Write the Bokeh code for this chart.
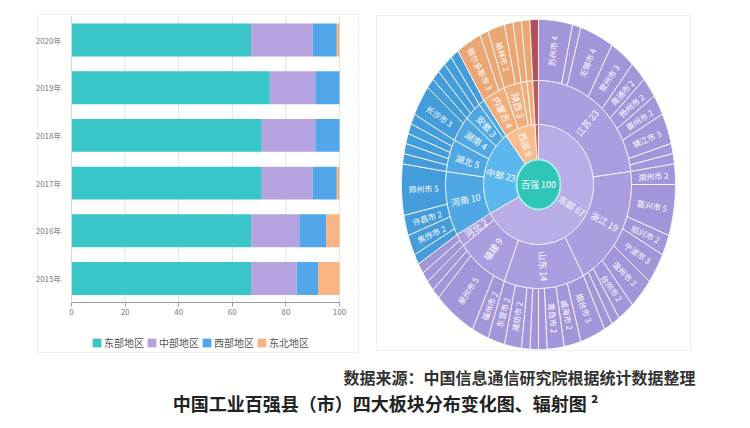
import numpy as np
from bokeh.plotting import figure
from bokeh.models import (Range1d, ColumnDataSource, Legend, LegendItem, BoxAnnotation,
                          LinearAxis, FixedTicker)
from bokeh.embed import file_html
from bokeh.resources import INLINE
from bokeh.core.properties import value

FONT = "Noto Sans CJK SC"

# ---------------- data: stacked bars ----------------
years = ["2015年", "2016年", "2017年", "2018年", "2019年", "2020年"]
east = [67, 67, 71, 71, 74, 67]
central = [17, 18, 19, 20, 17, 23]
west = [8, 10, 9, 9, 9, 9]
northeast = [8, 5, 1, 0, 0, 1]
bar_series = ["东部地区", "中部地区", "西部地区", "东北地区"]
x_ticks = [0, 20, 40, 60, 80, 100]

# ---------------- data: sunburst ----------------
root_label = "百强"
root_value = 100
regions = ["东部", "中部", "西部", "东北"]
region_values = [67, 23, 9, 1]

provinces = ["江苏", "浙江", "山东", "福建", "河北",
             "河南", "湖北", "湖南", "安徽", "江西",
             "内蒙古", "陕西", "贵州", "新疆",
             "辽宁"]
province_values = [23, 19, 14, 9, 2,
                   10, 5, 4, 3, 1,
                   4, 3, 1, 1,
                   1]
province_parent = ["东部"] * 5 + ["中部"] * 5 + ["西部"] * 4 + ["东北"]

cities = ["苏州市", "南京市", "无锡市", "常州市", "南通市", "扬州市", "泰州市", "镇江市", "盐城市", "徐州市",
          "湖州市", "嘉兴市", "绍兴市", "宁波市", "温州市", "台州市", "金华市", "杭州市",
          "烟台市", "威海市", "青岛市", "济宁市", "临沂市", "滨州市", "潍坊市", "东营市",
          "福州市", "泉州市", "漳州市", "厦门市",
          "唐山市", "石家庄市",
          "信阳市", "焦作市", "许昌市", "郑州市",
          "襄阳市", "宜昌市", "孝感市", "荆州市", "黄冈市",
          "长沙市", "岳阳市",
          "合肥市", "芜湖市", "滁州市",
          "南昌市",
          "鄂尔多斯市", "包头市",
          "榆林市", "延安市",
          "遵义市",
          "巴音郭楞州",
          "大连市"]
city_values = [4, 1, 4, 3, 2, 2, 2, 3, 1, 1,
               2, 5, 2, 3, 3, 2, 1, 1,
               3, 2, 2, 1, 1, 1, 2, 2,
               2, 5, 1, 1,
               1, 1,
               1, 2, 2, 5,
               1, 1, 1, 1, 1,
               3, 1,
               1, 1, 1,
               1,
               3, 1,
               2, 1,
               1,
               1,
               1]
city_parent = (["江苏"] * 10 + ["浙江"] * 8 + ["山东"] * 8 + ["福建"] * 4 + ["河北"] * 2 +
               ["河南"] * 4 + ["湖北"] * 5 + ["湖南"] * 2 + ["安徽"] * 3 + ["江西"] +
               ["内蒙古"] * 2 + ["陕西"] * 2 + ["贵州"] + ["新疆"] + ["辽宁"])

source_note = "数据来源：中国信息通信研究院根据统计数据整理"
caption = "中国工业百强县（市）四大板块分布变化图、辐射图 ²"

# ---------------- styles ----------------
bar_colors = ["#38c6c8", "#b6a2de", "#52a7ea", "#f8b483"]
ring_colors = {
    "东部": ["#baace7", "#ab9de0", "#a295d9"],
    "中部": ["#5db7ef", "#4fa8e4", "#459cdb"],
    "西部": ["#f8bc8d", "#f1ae7d", "#eaa673"],
    "东北": ["#c0646a", "#b8585f", "#b05058"],
}

W, H = 750, 428
p = figure(width=W, height=H, x_range=Range1d(0, W), y_range=Range1d(0, H),
           output_backend="svg", toolbar_location=None, min_border=0,
           x_axis_location=None, y_axis_location=None)
p.grid.visible = False
p.outline_line_color = None

# panel frames (page layout)
p.add_layout(BoxAnnotation(left=37, right=358, top=H - 14, bottom=H - 352,
                           fill_alpha=0, line_color="#c8c8c8", line_width=1))
p.add_layout(BoxAnnotation(left=376, right=690, top=H - 15, bottom=H - 350,
                           fill_alpha=0, line_color="#c8c8c8", line_width=1))

# ================= left: stacked bar chart =================
PX0, PX_SCALE = 71, 2.68       # pixel of value 0 and pixels per unit
PY0, PY_BAND = H - 278, 47.7   # pixel (from bottom) of first category and band height
p.extra_x_ranges = {"pct": Range1d(-PX0 / PX_SCALE, (W - PX0) / PX_SCALE)}
p.extra_y_ranges = {"cat": Range1d(-PY0 / PY_BAND, (H - PY0) / PY_BAND)}

idx = list(range(len(years)))
src = ColumnDataSource(dict(idx=idx, east=east, central=central, west=west, northeast=northeast))

# vertical grid lines
p.segment(x0=x_ticks[1:], x1=x_ticks[1:], y0=[-0.5] * (len(x_ticks) - 1), y1=[len(years) - 0.5] * (len(x_ticks) - 1),
          x_range_name="pct", y_range_name="cat", line_color="#e2e2e2", line_width=1)

rends = p.hbar_stack(["east", "central", "west", "northeast"], y="idx", height=0.69,
                     color=bar_colors, line_color=None, source=src,
                     x_range_name="pct", y_range_name="cat")

xaxis = LinearAxis(x_range_name="pct", fixed_location=H - 302, ticker=FixedTicker(ticks=x_ticks),
                   bounds=(0, 100))
yaxis = LinearAxis(y_range_name="cat", fixed_location=PX0, ticker=FixedTicker(ticks=idx),
                   major_label_overrides={i: y for i, y in zip(idx, years)},
                   bounds=(-0.5, len(years) - 0.5))
for ax in (xaxis, yaxis):
    ax.major_label_text_font = FONT
    ax.major_label_text_font_size = "8px"
    ax.major_label_text_color = "#777777"
    ax.minor_tick_line_color = None
xaxis.axis_line_color = "#9a9a9a"
xaxis.major_tick_line_color = "#9a9a9a"
xaxis.major_tick_out = 4
xaxis.major_tick_in = 0
xaxis.major_label_standoff = 2
yaxis.axis_line_color = "#d6d6d6"
yaxis.major_tick_line_color = None
yaxis.major_label_standoff = 4
p.add_layout(xaxis, "below")
p.add_layout(yaxis, "left")

legend = Legend(items=[LegendItem(label=s, renderers=[r]) for s, r in zip(bar_series, rends)],
                orientation="horizontal", location=(91, H - 350),
                label_text_font=FONT, label_text_font_size="10px", label_text_color="#555555",
                glyph_width=11, glyph_height=11, label_standoff=2, spacing=2,
                padding=2, margin=0, border_line_color=None, background_fill_alpha=0)
p.add_layout(legend)

# ================= right: sunburst =================
CX, CY = 538, H - 184
R0 = (22, 25)
R1 = (55, 60)
R2 = (93, 104)
R3 = (137, 165)


def layout_ring(names, vals, parents, parent_span):
    spans = []
    cursor = {}
    for n, v, par in zip(names, vals, parents):
        a0 = cursor.get(par, parent_span[par][0])
        a1 = a0 + v * 360.0 / root_value
        cursor[par] = a1
        spans.append((a0, a1))
    return spans


def wedge(a0, a1, rin, rout):
    t = np.radians(np.linspace(a0, a1, max(4, int(abs(a1 - a0) * 2))))
    xo = CX + rout[0] * np.sin(t)
    yo = CY + rout[1] * np.cos(t)
    xi = CX + rin[0] * np.sin(t[::-1])
    yi = CY + rin[1] * np.cos(t[::-1])
    return list(np.concatenate([xo, xi])), list(np.concatenate([yo, yi]))


region_span = layout_ring(regions, region_values, ["root"] * len(regions), {"root": (0.0, 0.0)})
region_span_map = dict(zip(regions, region_span))
prov_span = layout_ring(provinces, province_values, province_parent, region_span_map)
prov_span_map = dict(zip(provinces, prov_span))
prov_region = dict(zip(provinces, province_parent))
city_span = layout_ring(cities, city_values, city_parent, prov_span_map)

rings = [
    (regions, region_values, region_span, regions, R0, R1, 0, 9),
    (provinces, province_values, prov_span, province_parent, R1, R2, 1, 2),
    (cities, city_values, city_span, [prov_region[c] for c in city_parent], R2, R3, 2, 2),
]

label_x, label_y, label_t, label_a, label_s = [], [], [], [], []
for names, vals, spans, regs, rin, rout, lvl, minv in rings:
    xs, ys, cols = [], [], []
    for n, v, (a0, a1), rg in zip(names, vals, spans, regs):
        px, py = wedge(a0, a1, rin, rout)
        xs.append(px)
        ys.append(py)
        cols.append(ring_colors[rg][lvl])
        if v >= minv:
            tm = np.radians((a0 + a1) / 2)
            rx = (rin[0] + rout[0]) / 2
            ry = (rin[1] + rout[1]) / 2
            label_x.append(CX + rx * np.sin(tm))
            label_y.append(CY + ry * np.cos(tm))
            phi = np.arctan2(ry * np.cos(tm), rx * np.sin(tm))
            if np.degrees(tm) > 180:
                phi += np.pi
            label_a.append(phi)
            label_t.append(f"{n} {v}")
            label_s.append("8px" if lvl == 2 else "9px")
    p.patches(xs=xs, ys=ys, fill_color=cols, line_color="white", line_width=1, line_alpha=0.8)

p.ellipse(x=[CX], y=[CY], width=[2 * R0[0]], height=[2 * R0[1]],
          fill_color="#2fc5b8", line_color="#a8ece4", line_width=2)

lab_src = ColumnDataSource(dict(x=label_x, y=label_y, text=label_t, angle=label_a, size=label_s))
p.text(x="x", y="y", text="text", angle="angle", text_font_size="size", source=lab_src,
       text_font=value(FONT), text_color="white", text_align="center", text_baseline="middle")
p.text(x=[CX], y=[CY], text=[f"{root_label} {root_value}"], text_font=value(FONT),
       text_font_size="9px", text_color="white", text_align="center", text_baseline="middle")

# ================= caption =================
p.text(x=[695], y=[H - 376], text=[source_note], text_font=value(FONT),
       text_font_size="16px", text_font_style="bold", text_color="#333333",
       text_align="right", text_baseline="middle")
p.text(x=[385], y=[H - 402], text=[caption], text_font=value(FONT),
       text_font_size="18px", text_font_style="bold", text_color="#222222",
       text_align="center", text_baseline="middle")

open("out.html", "w").write(file_html(p, INLINE))
